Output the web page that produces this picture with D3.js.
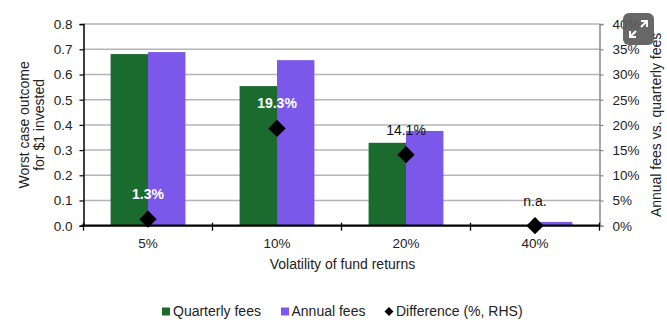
<!DOCTYPE html>
<html><head><meta charset="utf-8">
<script src="https://cdn.jsdelivr.net/npm/d3@7"></script>
<style>
html,body{margin:0;padding:0;background:#fff;}
svg{display:block;font-family:"Liberation Sans",Arial,Helvetica,sans-serif;}
</style></head>
<body><svg id="c" width="667" height="324"></svg>
<script>
const categories = ["5%", "10%", "20%", "40%"];
const quarterlyFees = [0.681, 0.554, 0.329, 0.0];
const annualFees = [0.689, 0.657, 0.376, 0.015];
const difference = [1.3, 19.3, 14.1, 0];
const diffLabels = ["1.3%", "19.3%", "14.1%", "n.a."];
const leftTicks = [0, 0.1, 0.2, 0.3, 0.4, 0.5, 0.6, 0.7, 0.8];
const rightTicks = [0, 5, 10, 15, 20, 25, 30, 35, 40];
const seriesNames = ["Quarterly fees", "Annual fees", "Difference (%, RHS)"];

const green = "#1b6b2f", purple = "#7b57ea";
const svg = d3.select("#c");
const L = 83.5, R = 599.5, T = 24.1, B = 225.7;

const x = d3.scaleBand().domain(categories).range([L, R]).paddingInner(0.42).paddingOuter(0.21);
const xs = d3.scaleBand().domain([0, 1]).range([0, x.bandwidth()]);
const y = d3.scaleLinear().domain([0, 0.8]).range([B, T]);
const y2 = d3.scaleLinear().domain([0, 40]).range([B, T]);

// gridlines
svg.append("g").selectAll("line").data(leftTicks.slice(1)).join("line")
  .attr("x1", L).attr("x2", R).attr("y1", d => y(d)).attr("y2", d => y(d))
  .attr("stroke", "#b4b4b4").attr("stroke-width", 1.5);

// bars
const groups = svg.append("g").selectAll("g").data(categories).join("g")
  .attr("transform", d => `translate(${x(d)},0)`);
groups.append("rect").attr("x", xs(0)).attr("width", xs.bandwidth())
  .attr("y", (d, i) => y(quarterlyFees[i])).attr("height", (d, i) => B - y(quarterlyFees[i]))
  .attr("fill", green);
groups.append("rect").attr("x", xs(1)).attr("width", xs.bandwidth())
  .attr("y", (d, i) => y(annualFees[i])).attr("height", (d, i) => B - y(annualFees[i]))
  .attr("fill", purple);

// left axis
const gl = svg.append("g").attr("transform", `translate(${L},0)`)
  .call(d3.axisLeft(y).tickValues(leftTicks).tickFormat(d3.format(".1f")).tickSize(4).tickPadding(7));
gl.select(".domain").attr("stroke", "#000").attr("stroke-width", 1.5);
gl.selectAll(".tick line").attr("stroke", "#000").attr("stroke-width", 1.2);
gl.selectAll(".tick text").attr("font-size", 13.5).attr("fill", "#222").attr("font-family", "Liberation Sans, Arial, sans-serif");

// right axis
const gr = svg.append("g").attr("transform", `translate(${R},0)`)
  .call(d3.axisRight(y2).tickValues(rightTicks).tickFormat(d => d + "%").tickSize(4).tickPadding(9));
gr.select(".domain").attr("stroke", "#8a8a8a").attr("stroke-width", 1.5);
gr.selectAll(".tick line").attr("stroke", "#8a8a8a").attr("stroke-width", 1.2);
gr.selectAll(".tick text").attr("font-size", 13.5).attr("fill", "#222").attr("font-family", "Liberation Sans, Arial, sans-serif");

// bottom axis
const gb = svg.append("g").attr("transform", `translate(0,${B})`);
gb.append("line").attr("x1", L - 2).attr("x2", R).attr("y1", 0).attr("y2", 0).attr("stroke", "#000").attr("stroke-width", 2.2);
const bounds = categories.map(c => x(c) - x.step() * x.paddingInner() / 2).concat([R]);
bounds[0] = L;
gb.selectAll("line.tk").data(bounds).join("line").attr("class", "tk")
  .attr("x1", d => d).attr("x2", d => d).attr("y1", -3).attr("y2", 5).attr("stroke", "#000").attr("stroke-width", 1.3);
gb.selectAll("text").data(categories).join("text")
  .attr("x", d => x(d) + x.bandwidth() / 2).attr("y", 22.5)
  .attr("text-anchor", "middle").attr("font-size", 13.5).attr("fill", "#222").text(d => d);

// diamonds
const cx = d => x(d) + x.bandwidth() / 2;
svg.append("g").selectAll("path").data(categories).join("path")
  .attr("d", d3.symbol().type(d3.symbolSquare).size(150))
  .attr("transform", (d, i) => `translate(${cx(d)},${y2(difference[i])}) rotate(45)`)
  .attr("fill", "#000");

// labels
svg.append("g").selectAll("text").data(categories).join("text")
  .attr("x", d => cx(d)).attr("y", (d, i) => y2(difference[i]) - 25 + 5)
  .attr("text-anchor", "middle").attr("font-size", 14)
  .attr("font-weight", (d, i) => i < 2 ? "bold" : "normal")
  .attr("fill", (d, i) => i < 2 ? "#fff" : "#111")
  .text((d, i) => diffLabels[i]);

// titles
svg.append("text").attr("transform", `translate(28.5,${(T + B) / 2}) rotate(-90)`)
  .attr("text-anchor", "middle").attr("font-size", 14).attr("fill", "#222").text("Worst case outcome");
svg.append("text").attr("transform", `translate(44,${(T + B) / 2}) rotate(-90)`)
  .attr("text-anchor", "middle").attr("font-size", 14).attr("fill", "#222").text("for $1 invested");
svg.append("text").attr("transform", `translate(661,${(T + B) / 2}) rotate(-90)`)
  .attr("text-anchor", "middle").attr("font-size", 14).attr("fill", "#222").text("Annual fees vs. quarterly fees");
svg.append("text").attr("x", (L + R) / 2 + 1).attr("y", 269)
  .attr("text-anchor", "middle").attr("font-size", 14).attr("fill", "#222").text("Volatility of fund returns");

// legend
const lg = svg.append("g").attr("font-size", 14).attr("fill", "#222");
lg.append("rect").attr("x", 162).attr("y", 307.5).attr("width", 8).attr("height", 8).attr("fill", green);
lg.append("text").attr("x", 173).attr("y", 316).text(seriesNames[0]);
lg.append("rect").attr("x", 281).attr("y", 307.5).attr("width", 8).attr("height", 8).attr("fill", purple);
lg.append("text").attr("x", 291.5).attr("y", 316).text(seriesNames[1]);
lg.append("path").attr("d", d3.symbol().type(d3.symbolSquare).size(40))
  .attr("transform", "translate(389,311.5) rotate(45)").attr("fill", "#000");
lg.append("text").attr("x", 396).attr("y", 316).text(seriesNames[2]);

// expand button overlay
const eb = svg.append("g").attr("transform", "translate(623,13)");
eb.append("rect").attr("width", 31).attr("height", 32).attr("rx", 6).attr("fill", "#5a5a5a").attr("opacity", 0.92);
eb.append("path").attr("d", "M18 8 L24 8 L24 14 M24 8 L18 14 M13 24 L7 24 L7 18 M7 24 L13 18")
  .attr("stroke", "#fff").attr("stroke-width", 2).attr("fill", "none");
</script></body></html>
